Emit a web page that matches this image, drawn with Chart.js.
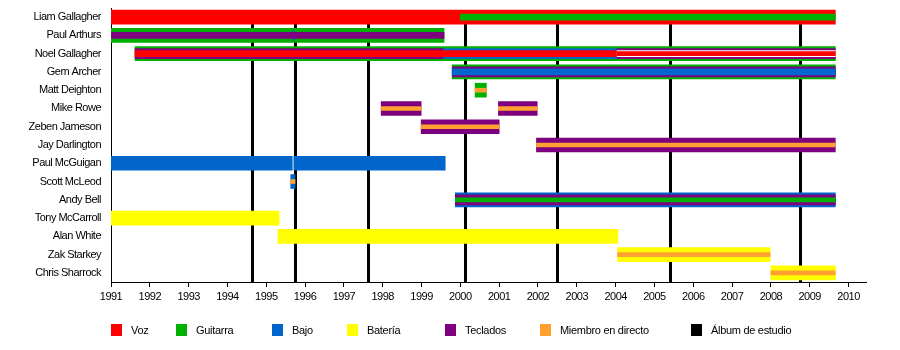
<!DOCTYPE html>
<html>
<head>
  <title>Oasis - miembros</title>
  <script src="https://cdn.jsdelivr.net/npm/chart.js@4.4.0/dist/chart.umd.min.js"></script>
  <style>
    body { margin: 0; background: #fff; font-family: "Liberation Sans", Arial, sans-serif; }
    #wrap { position: relative; width: 900px; height: 350px; }
    #legend { position: absolute; top: 324px; left: 0; width: 900px; height: 14px; font-size: 11px; letter-spacing: -0.3px; color: #000; }
    .item { position: absolute; top: 0; height: 12px; }
    .box { position: absolute; left: 0; top: 0; width: 11px; height: 12px; }
    .label { position: absolute; left: 20px; top: 0; line-height: 12px; white-space: nowrap; }
  </style>
</head>
<body>
  <div id="wrap">
    <canvas id="chart" width="900" height="350"></canvas>
    <div id="legend"></div>
  </div>

  <script>
    // Rows, top to bottom
    const members = ['Liam Gallagher', 'Paul Arthurs', 'Noel Gallagher', 'Gem Archer', 'Matt Deighton',
      'Mike Rowe', 'Zeben Jameson', 'Jay Darlington', 'Paul McGuigan', 'Scott McLeod', 'Andy Bell',
      'Tony McCarroll', 'Alan White', 'Zak Starkey', 'Chris Sharrock'];

    const yearTicks = [1991, 1992, 1993, 1994, 1995, 1996, 1997, 1998, 1999, 2000,
      2001, 2002, 2003, 2004, 2005, 2006, 2007, 2008, 2009, 2010];

    // Studio album release dates (fractional years)
    const albumYears = [1994.62, 1995.73, 1997.61, 2000.13, 2002.48, 2005.39, 2008.74];

    const roles = ['Voz', 'Guitarra', 'Bajo', 'Batería', 'Teclados', 'Miembro en directo', 'Álbum de estudio'];
    const roleColors = ['#ff0000', '#00b000', '#0066cc', '#ffff00', '#7f007f', '#ffa030', '#000000'];

    // [member, from, to, role] - full width bars
    const outerSpans = [
      ['Liam Gallagher', 1991, 2009.66, 'Voz'],
      ['Paul Arthurs', 1991, 1999.58, 'Guitarra'],
      ['Noel Gallagher', 1991.62, 2009.66, 'Guitarra'],
      ['Gem Archer', 1999.79, 2009.66, 'Guitarra'],
      ['Matt Deighton', 2000.38, 2000.67, 'Guitarra'],
      ['Mike Rowe', 1997.96, 1998.99, 'Teclados'],
      ['Mike Rowe', 2000.98, 2001.98, 'Teclados'],
      ['Zeben Jameson', 1998.99, 2001.0, 'Teclados'],
      ['Jay Darlington', 2001.96, 2009.66, 'Teclados'],
      ['Paul McGuigan', 1991, 1995.67, 'Bajo'],
      ['Paul McGuigan', 1995.71, 1999.61, 'Bajo'],
      ['Scott McLeod', 1995.63, 1995.74, 'Bajo'],
      ['Andy Bell', 1999.87, 2009.66, 'Bajo'],
      ['Tony McCarroll', 1991, 1995.33, 'Batería'],
      ['Alan White', 1995.3, 2004.06, 'Batería'],
      ['Zak Starkey', 2004.05, 2007.98, 'Batería'],
      ['Chris Sharrock', 2008.0, 2009.66, 'Batería']
    ];

    // second stripe
    const midSpans = [
      ['Paul Arthurs', 1995.68, 1995.72, 'Bajo'],
      ['Noel Gallagher', 1991.62, 1999.56, 'Teclados'],
      ['Noel Gallagher', 1999.56, 2004.04, 'Bajo'],
      ['Noel Gallagher', 2004.04, 2009.66, 'Teclados'],
      ['Gem Archer', 1999.79, 2009.66, 'Teclados'],
      ['Andy Bell', 1999.87, 2009.66, 'Teclados']
    ];

    // third stripe
    const innerSpans = [
      ['Liam Gallagher', 2000.0, 2009.66, 'Guitarra'],
      ['Paul Arthurs', 1991, 1999.58, 'Teclados'],
      ['Noel Gallagher', 1991.62, 2004.04, 'Voz'],
      ['Noel Gallagher', 2004.04, 2009.66, 'blank'],
      ['Gem Archer', 1999.79, 2009.66, 'Bajo']
    ];

    // centre stripe
    const coreSpans = [
      ['Noel Gallagher', 2004.04, 2009.66, 'Voz'],
      ['Matt Deighton', 2000.38, 2000.67, 'Miembro en directo'],
      ['Mike Rowe', 1997.96, 1998.99, 'Miembro en directo'],
      ['Mike Rowe', 2000.98, 2001.98, 'Miembro en directo'],
      ['Zeben Jameson', 1998.99, 2001.0, 'Miembro en directo'],
      ['Jay Darlington', 2001.96, 2009.66, 'Miembro en directo'],
      ['Scott McLeod', 1995.63, 1995.74, 'Miembro en directo'],
      ['Andy Bell', 1999.87, 2009.66, 'Guitarra'],
      ['Zak Starkey', 2004.05, 2007.98, 'Miembro en directo'],
      ['Chris Sharrock', 2008.0, 2009.66, 'Miembro en directo']
    ];

    const colorOf = role => role === 'blank' ? '#ffffff' : roleColors[roles.indexOf(role)];

    const makeLayer = (spans, thickness, order) => ({
      data: spans.map(s => ({ x: [s[1], s[2]], y: s[0] })),
      backgroundColor: spans.map(s => colorOf(s[3])),
      barThickness: thickness,
      grouped: false,
      borderWidth: 0,
      order: order
    });

    // vertical album lines behind the bars
    const albumLines = {
      id: 'albumLines',
      beforeDatasetsDraw(chart) {
        const { ctx, scales: { x, y }, chartArea } = chart;
        const top = y.getPixelForValue(0) - 7;
        ctx.save();
        ctx.strokeStyle = '#000';
        ctx.lineWidth = 3;
        albumYears.forEach(v => {
          const px = Math.round(x.getPixelForValue(v)) + 0.5;
          ctx.beginPath();
          ctx.moveTo(px, top);
          ctx.lineTo(px, chartArea.bottom);
          ctx.stroke();
        });
        ctx.restore();
      }
    };

    const tightText = {
      id: 'tightText',
      beforeUpdate(chart) { chart.ctx.letterSpacing = '-0.5px'; },
      beforeDraw(chart) { chart.ctx.letterSpacing = '-0.5px'; }
    };

    const font = { family: '"Liberation Sans", Arial, sans-serif', size: 11 };

    new Chart(document.getElementById('chart'), {
      type: 'bar',
      data: {
        labels: members,
        datasets: [
          makeLayer(outerSpans, 14, 4),
          makeLayer(midSpans, 10, 3),
          makeLayer(innerSpans, 6, 2),
          makeLayer(coreSpans, 4, 1)
        ]
      },
      options: {
        indexAxis: 'y',
        responsive: false,
        animation: false,
        devicePixelRatio: 1,
        layout: { padding: { top: 8, right: 34, left: 0, bottom: 0 } },
        plugins: { legend: { display: false }, tooltip: { enabled: false } },
        scales: {
          x: {
            type: 'linear',
            min: 1991,
            max: 2010.45,
            afterBuildTicks: scale => { scale.ticks = yearTicks.map(v => ({ value: v })); },
            afterFit: scale => { scale.height = 68; scale.paddingLeft = 0; scale.paddingRight = 0; },
            grid: { display: true, drawOnChartArea: false, drawTicks: true, tickLength: 5, color: '#000' },
            border: { display: true, color: '#000', width: 1 },
            ticks: { color: '#000', font: font, padding: 3, maxRotation: 0, autoSkip: false, callback: v => String(v) }
          },
          y: {
            type: 'category',
            afterFit: scale => { scale.width = 111; scale.paddingTop = 0; scale.paddingBottom = 0; },
            grid: { display: false, drawTicks: false },
            border: { display: true, color: '#000', width: 1 },
            ticks: { color: '#000', font: font, padding: 10 }
          }
        }
      },
      plugins: [albumLines, tightText]
    });

    // legend
    const legendLeft = [111, 176, 272, 347, 445, 540, 691];
    const legend = document.getElementById('legend');
    roles.forEach((r, i) => {
      const item = document.createElement('div');
      item.className = 'item';
      item.style.left = legendLeft[i] + 'px';
      item.innerHTML = '<div class="box" style="background:' + roleColors[i] + '"></div><div class="label">' + r + '</div>';
      legend.appendChild(item);
    });
  </script>
</body>
</html>
